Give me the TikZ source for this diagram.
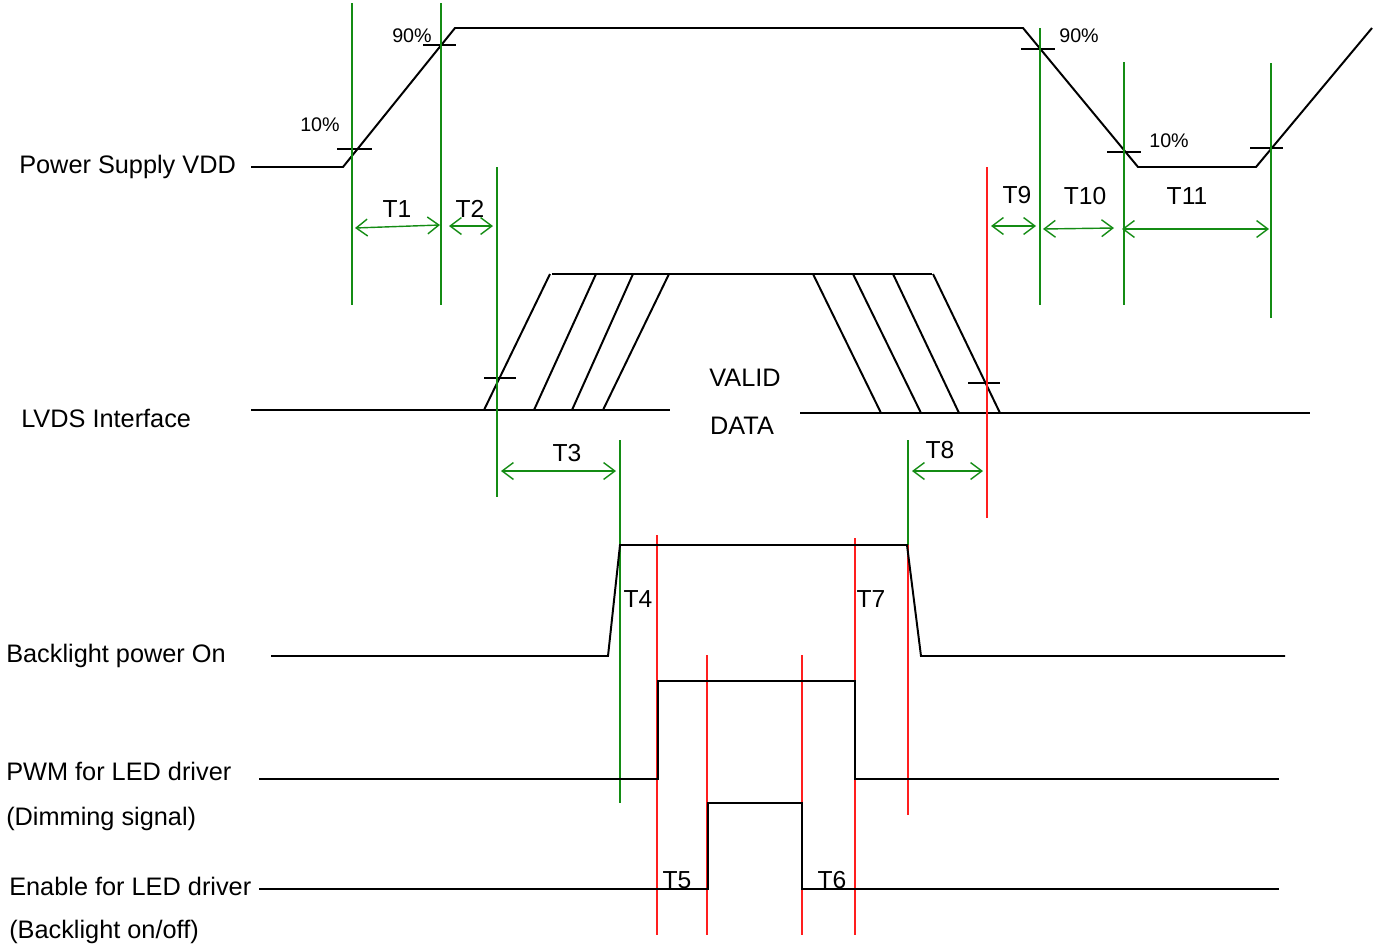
\documentclass[tikz,border=0pt]{standalone}
\usepackage{fontspec}
\setmainfont{Liberation Sans}
\usetikzlibrary{arrows.meta}
\definecolor{tgreen}{RGB}{20,140,20}
\definecolor{tred}{RGB}{255,30,30}
\tikzset{
  sig/.style={line width=1.4pt},
  gline/.style={draw=tgreen, line width=1pt},
  rline/.style={draw=tred, line width=1pt},
  dim/.style={draw=tgreen, line width=1pt,
    {Straight Barb[length=8pt,width=12pt]}-{Straight Barb[length=8pt,width=12pt]}},
  lbl/.style={anchor=west, inner sep=0pt, font=\fontsize{18}{20}\selectfont},
  tlab/.style={inner sep=0pt, font=\fontsize{17.5}{19}\selectfont},
  pct/.style={inner sep=0pt, font=\fontsize{14}{15}\selectfont}
}
\begin{document}
\begin{tikzpicture}[x=0.025cm, y=-0.025cm]
        \useasboundingbox (0,0) rectangle (1377,948);
        % signal names
        \node[lbl] (vdd) at (19,167) {Power Supply VDD};
        \node[lbl] (lvds) at (21,418) {LVDS Interface};
        \node[lbl] (blon) at (6,656) {Backlight power On};
        \node[lbl] (pwm) at (6,771) {PWM for LED driver};
        \node[lbl] (pwmb) at (6,819) {(Dimming signal)};
        \node[lbl] (en) at (9,886) {Enable for LED driver};
        \node[lbl] (enb) at (9,932) {(Backlight on/off)};
        % Power supply VDD
        \draw[sig] (251,167) -- (343,167) -- (455,28) -- (1023,28)
            -- (1138,167) -- (1256,167) -- (1372,28);
        \draw[sig] (337,149) -- (372,149);
        \draw[sig] (423,45) -- (456,45);
        \draw[sig] (1021,49) -- (1055,49);
        \draw[sig] (1107,152) -- (1141,152);
        \draw[sig] (1250,148) -- (1283,148);
        \node[pct] (p10a) at (320,125) {10\%};
        \node[pct] (p90a) at (412,36) {90\%};
        \node[pct] (p90b) at (1079,36) {90\%};
        \node[pct] (p10b) at (1169,141) {10\%};
        % LVDS interface
        \draw[sig] (251,410) -- (670,410);
        \draw[sig] (800,413) -- (1310,413);
        \draw[sig] (552,274) -- (932,274);
        \foreach \b/\t in {484/550, 534/596, 572/633, 603/669}
            \draw[sig] (\b,410) -- (\t,274);
        \foreach \t/\b in {813/881, 853/921, 893/959, 933/1000}
            \draw[sig] (\t,274) -- (\b,413);
        \draw[sig] (484,378) -- (516,378);
        \draw[sig] (968,383) -- (1000,383);
        \node[lbl, anchor=center] (valid) at (745,378) {VALID};
        \node[lbl, anchor=center] (data) at (742,426) {DATA};
        % green markers
        \draw[gline] (352,3) -- (352,305);
        \draw[gline] (441,3) -- (441,305);
        \draw[gline] (497,167) -- (497,497);
        \draw[gline] (620,440) -- (620,803);
        \draw[gline] (908,440) -- (908,545);
        \draw[gline] (1040,28) -- (1040,305);
        \draw[gline] (1124,62) -- (1124,305);
        \draw[gline] (1271,63) -- (1271,318);
        % red markers
        \draw[rline] (987,167) -- (987,518);
        \draw[rline] (908,545) -- (908,815);
        \draw[rline] (657,535) -- (657,935);
        \draw[rline] (707,655) -- (707,935);
        \draw[rline] (802,655) -- (802,935);
        \draw[rline] (855,538) -- (855,935);
        % backlight, PWM and enable
        \draw[sig] (271,656) -- (608,656) -- (620,545) -- (907,545)
            -- (921,656) -- (1285,656);
        \draw[sig] (259,779) -- (658,779) -- (658,681) -- (855,681)
            -- (855,779) -- (1279,779);
        \draw[sig] (259,889) -- (708,889) -- (708,803) -- (802,803)
            -- (802,889) -- (1279,889);
        % timing arrows
        \draw[dim] (355,228) -- (440,225);
        \draw[dim] (449,226) -- (493,226);
        \draw[dim] (991,226) -- (1036,226);
        \draw[dim] (1043,229) -- (1114,228);
        \draw[dim] (1122,229) -- (1269,229);
        \draw[dim] (501,471) -- (616,471);
        \draw[dim] (912,471) -- (983,471);
        \node[tlab] (t1) at (397,209) {T1};
        \node[tlab] (t2) at (470,209) {T2};
        \node[tlab] (t3) at (567,453) {T3};
        \node[tlab] (t4) at (638,599) {T4};
        \node[tlab] (t5) at (677,880) {T5};
        \node[tlab] (t6) at (832,880) {T6};
        \node[tlab] (t7) at (871,599) {T7};
        \node[tlab] (t8) at (940,450) {T8};
        \node[tlab] (t9) at (1017,195) {T9};
        \node[tlab] (t10) at (1085,196) {T10};
        \node[tlab] (t11) at (1187,196) {T11};
    \end{tikzpicture}
\end{document}
